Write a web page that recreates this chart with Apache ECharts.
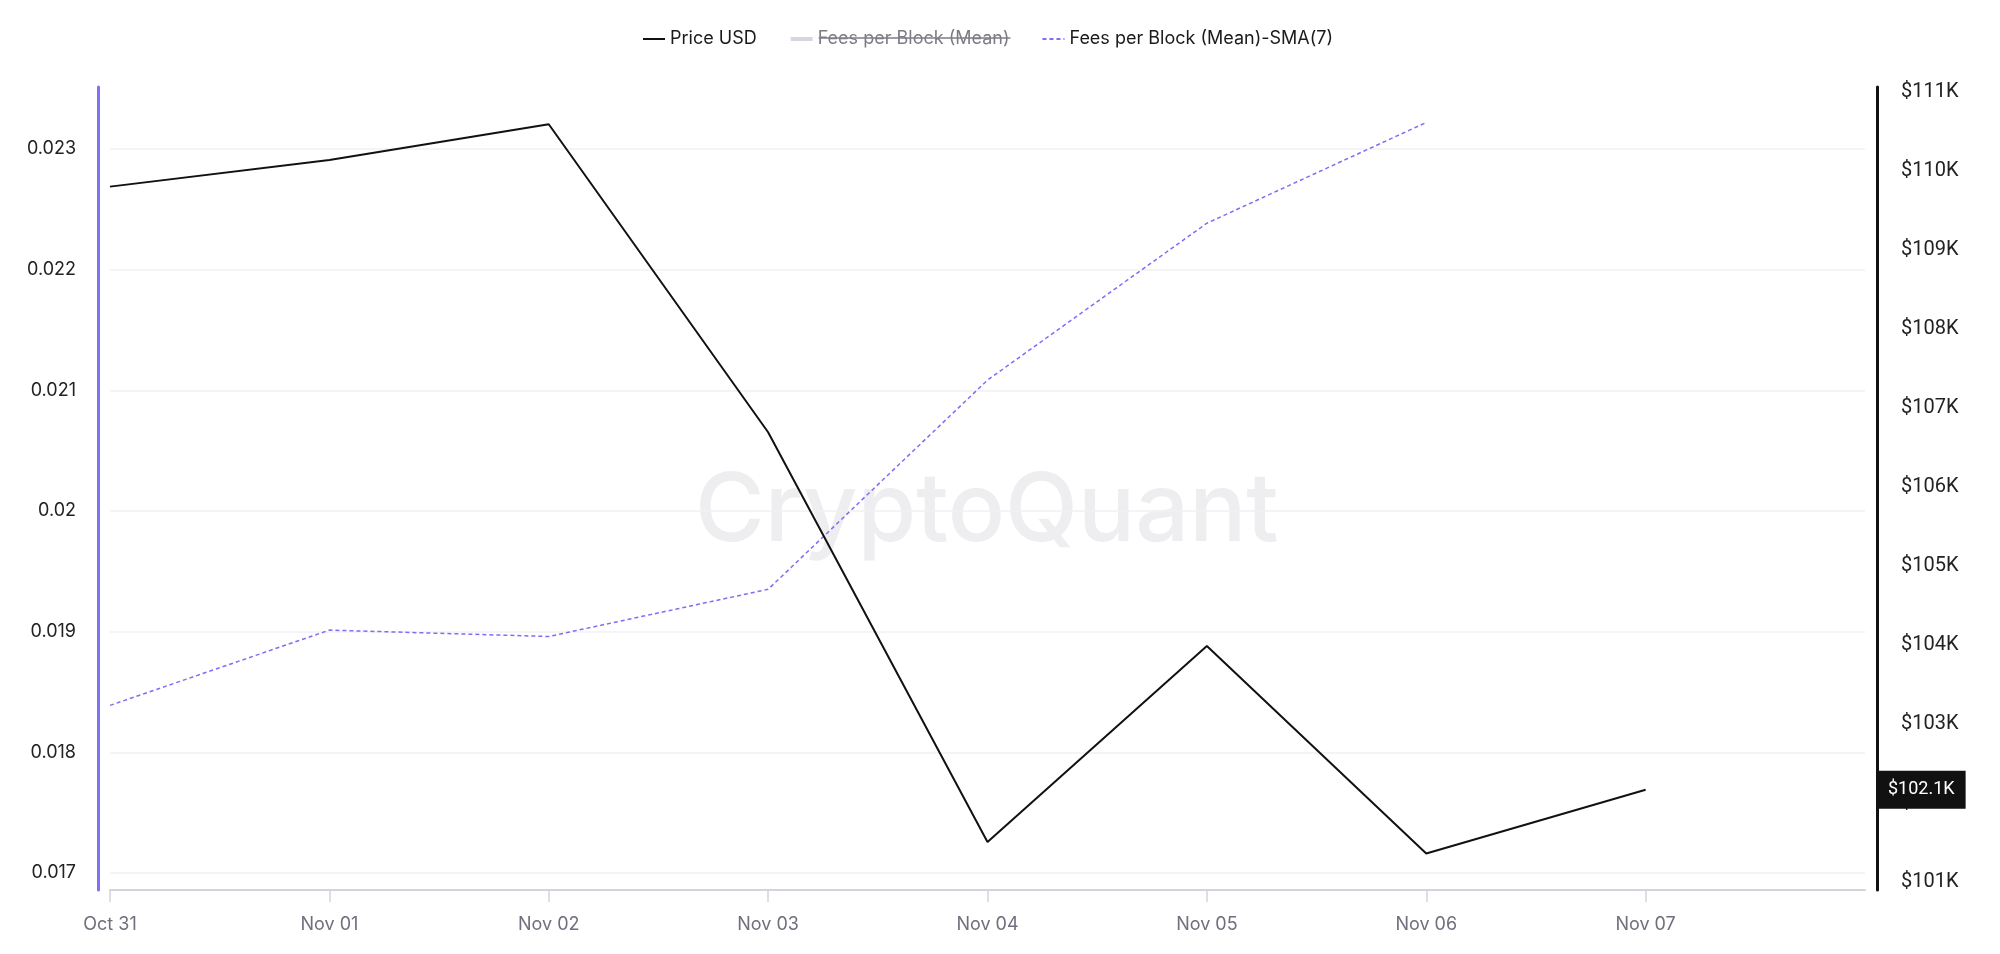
<!DOCTYPE html>
<html>
<head>
<meta charset="utf-8">
<script src="https://cdn.jsdelivr.net/npm/echarts@6/dist/echarts.min.js"></script>
<style>
  html, body { margin: 0; padding: 0; background: #ffffff; }
  #chart { width: 2000px; height: 954px; }
</style>
</head>
<body>
<div id="chart"></div>
<script>
// ---------------- data ----------------
const dates = ['2025-10-31', '2025-11-01', '2025-11-02', '2025-11-03', '2025-11-04', '2025-11-05', '2025-11-06', '2025-11-07'];
const tickLabels = ['Oct 31', 'Nov 01', 'Nov 02', 'Nov 03', 'Nov 04', 'Nov 05', 'Nov 06', 'Nov 07'];
const axisEndDate = '2025-11-08';
const priceUSD = [109739, 110076, 110528, 106630, 101444, 103924, 101299, 102105];
const feesMeanSMA7 = [0.018389, 0.019013, 0.018960, 0.019351, 0.021085, 0.022385, 0.023220];
const feesMean = []; // series is switched off in the legend
const leftTicks = [0.017, 0.018, 0.019, 0.020, 0.021, 0.022, 0.023];
const rightTicks = [101000, 102000, 103000, 104000, 105000, 106000, 107000, 108000, 109000, 110000, 111000];
const seriesNames = ['Price USD', 'Fees per Block (Mean)', 'Fees per Block (Mean)-SMA(7)'];

// ---------------- helpers ----------------
function ts(s) { const p = s.split('-').map(Number); return Date.UTC(p[0], p[1] - 1, p[2]); }
const dateTs = dates.map(ts);
const FONT = 'Inter, "Noto Sans", sans-serif';
const NUMFONT = 'Roboto, "Noto Sans", sans-serif';
const LEG_FS = 18;
const LEG_LEFT = 637, LEG_TOP = 25, ICON_W = 22, ITEM_GAP = 32;

const priceData = dateTs.map((t, i) => [t, priceUSD[i]]);
const smaData = feesMeanSMA7.map((v, i) => [dateTs[i], v]);
const feesData = feesMean.map((v, i) => [dateTs[i], v]);

// measure legend text to place the strike-through on the hidden series label
const cv = document.createElement('canvas').getContext('2d');
cv.font = LEG_FS + 'px ' + FONT;
const wPrice = cv.measureText(seriesNames[0]).width;
const wFees = cv.measureText(seriesNames[1]).width;
const strikeX1 = LEG_LEFT + ICON_W + 5 + wPrice + ITEM_GAP + ICON_W + 5 + 9;
const strikeY = LEG_TOP + 13;

const chart = echarts.init(document.getElementById('chart'), null, { renderer: 'canvas' });

const option = {
  backgroundColor: '#ffffff',
  animation: false,
  textStyle: { fontFamily: FONT },
  legend: {
    left: LEG_LEFT,
    top: LEG_TOP,
    itemWidth: ICON_W,
    itemHeight: 14,
    itemGap: ITEM_GAP,
    data: seriesNames,
    selected: { 'Fees per Block (Mean)': false },
    inactiveColor: '#d6d6de',
    itemStyle: { opacity: 0 },
    lineStyle: { inactiveWidth: 4, inactiveColor: '#d6d6de' },
    textStyle: { fontSize: LEG_FS, color: '#1a1a1a', fontFamily: FONT,
      rich: { off: { fontSize: LEG_FS, color: '#7c7c86', fontFamily: FONT } } },
    formatter: function (n) { return n === seriesNames[1] ? '{off|' + n + '}' : n; }
  },
  grid: { left: 110, right: 135, top: 87, bottom: 64, containLabel: false },
  xAxis: {
    type: 'value',
    min: dateTs[0],
    max: ts(axisEndDate),
    axisLine: { show: true, lineStyle: { color: '#d4d4df', width: 2 } },
    axisTick: { show: true, length: 12, lineStyle: { color: '#d4d4df', width: 1.5 }, customValues: dateTs },
    axisLabel: {
      customValues: dateTs,
      margin: 26,
      fontSize: 18,
      color: '#6f6f7d',
      fontFamily: FONT,
      formatter: function (v) { const i = dateTs.indexOf(v); return i >= 0 ? tickLabels[i] : ''; }
    },
    splitLine: { show: false }
  },
  yAxis: [
    {
      type: 'value',
      position: 'left',
      min: 0.016859,
      max: 0.023514,
      offset: 12,
      axisLine: { show: true, lineStyle: { color: '#7f72f7', width: 3 } },
      axisTick: { show: false, customValues: leftTicks },
      axisLabel: {
        customValues: leftTicks,
        margin: 22,
        fontSize: 18,
        color: '#222222',
        fontFamily: FONT,
        formatter: function (v) { return String(+v.toFixed(3)); }
      },
      splitLine: { show: true, lineStyle: { color: '#f1f1f4', width: 1.5 } }
    },
    {
      type: 'value',
      position: 'right',
      min: 100836,
      max: 111000,
      offset: 12,
      axisLine: { show: true, lineStyle: { color: '#111111', width: 3 } },
      axisTick: { show: false, customValues: rightTicks },
      axisLabel: {
        customValues: rightTicks,
        margin: 24,
        fontSize: 20,
        color: '#222222',
        fontFamily: NUMFONT,
        verticalAlign: 'top',
        lineHeight: 10,
        formatter: function (v) { return '$' + Math.round(v / 1000) + 'K'; }
      },
      splitLine: { show: false },
      axisPointer: {
        show: true,
        type: 'line',
        status: 'show',
        value: priceUSD[priceUSD.length - 1],
        snap: false,
        triggerTooltip: false,
        lineStyle: { opacity: 0, width: 0 },
        label: {
          show: true,
          backgroundColor: '#111111',
          color: '#ffffff',
          fontSize: 18,
          fontFamily: NUMFONT,
          padding: [10, 11, 10, 11],
          margin: 0,
          borderRadius: 0,
          formatter: function (p) { return '$' + (p.value / 1000).toFixed(1) + 'K'; }
        }
      }
    }
  ],
  graphic: [
    {
      type: 'text',
      left: 695,
      top: 465,
      z: -10,
      silent: true,
      style: { text: 'CryptoQuant', fontSize: 95, fontWeight: 500, fontFamily: FONT, fill: '#eeeef1' }
    },
    {
      type: 'line',
      z: 100,
      silent: true,
      shape: { x1: strikeX1, y1: strikeY, x2: strikeX1 + wFees, y2: strikeY },
      style: { stroke: '#7c7c86', lineWidth: 1.5 }
    }
  ],
  series: [
    {
      name: seriesNames[0],
      type: 'line',
      yAxisIndex: 1,
      data: priceData,
      symbol: 'none',
      lineStyle: { color: '#111111', width: 2 },
      itemStyle: { color: '#111111' },
      z: 3
    },
    {
      name: seriesNames[1],
      type: 'line',
      yAxisIndex: 0,
      data: feesData,
      symbol: 'none',
      lineStyle: { color: '#d6d6de', width: 4 },
      itemStyle: { color: '#d6d6de' }
    },
    {
      name: seriesNames[2],
      type: 'line',
      yAxisIndex: 0,
      data: smaData,
      symbol: 'none',
      lineStyle: { color: '#7b6ff6', width: 1.5, type: [4, 3] },
      itemStyle: { color: '#7b6ff6' },
      z: 2
    }
  ]
};
chart.setOption(option);
</script>
</body>
</html>
